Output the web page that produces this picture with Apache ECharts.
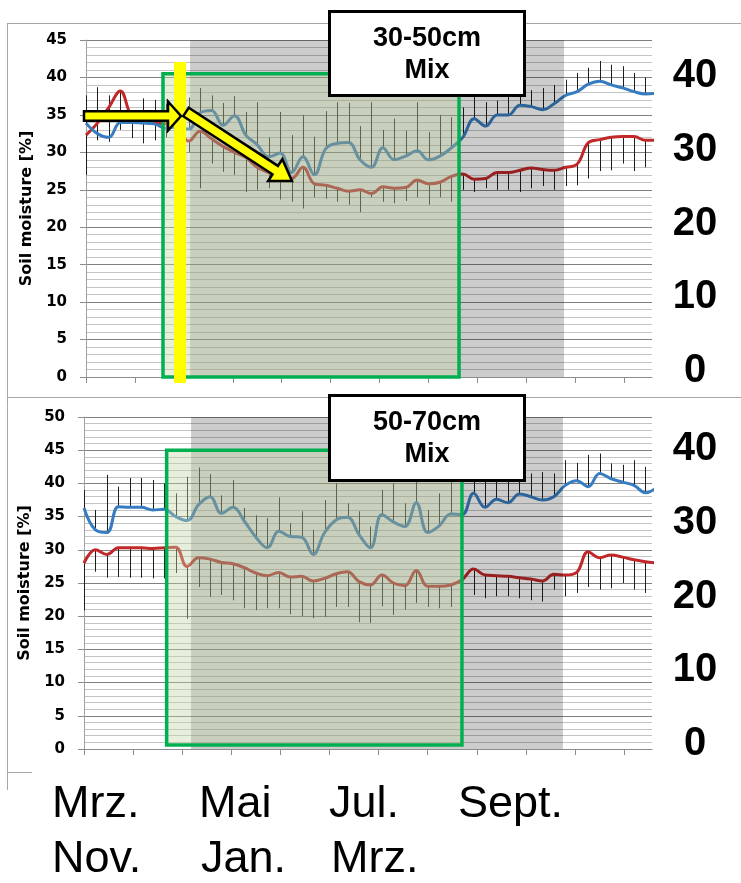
<!DOCTYPE html>
<html>
<head>
<meta charset="utf-8">
<script src="https://cdn.jsdelivr.net/npm/echarts@6/dist/echarts.min.js"></script>
<style>
  html, body { margin: 0; padding: 0; background: #fff; }
  #chart { width: 741px; height: 883px; }
</style>
</head>
<body>
<div id="chart"></div>
<script>
// Sampling days (weekly) shared by both depth panels
const days = [0, 7, 14, 21, 28, 35, 42, 49, 56, 63, 70, 77, 84, 91, 98, 105, 112, 119, 126, 133,
  140, 147, 154, 161, 168, 175, 182, 189, 196, 203, 210, 217, 224, 231, 238, 245, 252, 259, 266, 273,
  280, 287, 294, 301, 308, 315, 322, 329, 336, 343, 350];

// Month tick positions (days) and the month captions printed under the panels
const tickDays = [0, 30, 60, 90, 120, 150, 180, 210, 240, 270, 300, 330];
const monthRow1 = ['Mrz.', 'Mai', 'Jul.', 'Sept.'];
const monthRow2 = ['Nov.', 'Jan.', 'Mrz.'];
const rightTicks = [0, 10, 20, 30, 40];

// 30-50 cm
const topBlue = [33.9, 32.5, 32.0, 34.0, 34.0, 33.9, 33.8, 33.2, 33.4, 33.1, 35.3, 35.6, 33.6, 34.9, 32.3, 31.0,
  29.4, 29.9, 27.3, 29.4, 27.0, 30.5, 31.2, 31.3, 29.0, 28.0, 30.6, 29.0, 29.5, 30.2, 29.0, 29.5, 30.6, 32.0,
  34.5, 33.5, 35.0, 35.0, 36.3, 36.1, 35.7, 36.5, 37.6, 38.1, 39.1, 39.5, 39.0, 38.6, 38.1, 37.8, 37.9];
const topRed = [32.3, 33.9, 36.0, 38.2, 34.8, 34.0, 33.9, 33.8, 33.3, 31.5, 32.8, 31.8, 30.8, 30.0, 29.3, 28.0,
  27.3, 26.7, 26.5, 28.0, 25.8, 25.6, 25.2, 24.8, 25.0, 24.5, 25.4, 25.2, 25.3, 26.3, 25.8, 26.0, 26.8, 27.1,
  26.4, 26.5, 27.3, 27.3, 27.6, 27.9, 27.7, 27.6, 28.0, 28.4, 31.3, 31.7, 32.0, 32.1, 32.1, 31.6, 31.6];
const topBlueHigh = [37.6, 38.7, 37.6, 36.5, 35.4, 37.2, 37.0, 36.5, 36.8, 37.3, 38.6, 37.6, 36.6, 37.5, 35.4, 36.7,
  32.0, 35.4, 32.3, 35.0, 32.1, 35.5, 36.7, 36.6, 33.5, 36.7, 33.0, 34.5, 32.9, 36.7, 32.7, 35.0, 34.7, 36.0,
  38.1, 36.7, 36.9, 37.8, 37.6, 38.3, 38.6, 39.0, 39.7, 40.6, 41.3, 42.2, 41.7, 41.5, 40.6, 40.0, 40.2];
const topRedLow = [27.0, 31.6, 31.4, 33.0, 31.9, 31.2, 31.6, 32.0, 31.5, 30.0, 25.2, 28.5, 27.4, 27.0, 24.7, 25.0,
  25.2, 23.7, 23.4, 22.5, 24.0, 23.8, 23.4, 23.0, 22.0, 24.0, 23.4, 23.2, 23.5, 24.0, 23.0, 24.0, 23.4, 25.0,
  24.7, 25.2, 25.0, 25.0, 24.7, 25.2, 25.5, 25.0, 25.5, 25.6, 26.5, 27.5, 27.6, 28.5, 27.5, 28.0, 28.0];

// 50-70 cm
const botBlue = [36.3, 33.0, 32.6, 36.5, 36.4, 36.4, 36.0, 36.1, 35.0, 34.4, 36.8, 38.0, 35.5, 36.4, 34.3, 31.9,
  30.3, 32.8, 32.0, 31.9, 29.3, 32.6, 34.5, 34.9, 32.3, 30.3, 35.3, 34.2, 33.5, 37.1, 32.6, 33.6, 35.4, 35.3,
  38.5, 36.4, 37.6, 37.1, 38.4, 38.0, 37.5, 38.0, 39.7, 40.4, 39.5, 41.5, 40.7, 40.2, 39.7, 38.6, 39.4];
const botRed = [28.0, 30.0, 29.3, 30.3, 30.3, 30.3, 30.2, 30.3, 30.4, 27.5, 28.8, 28.6, 28.1, 27.9, 27.3, 26.5,
  26.1, 26.6, 25.9, 26.0, 25.3, 25.7, 26.4, 26.7, 25.2, 24.7, 26.2, 25.0, 24.6, 26.9, 24.5, 24.5, 24.7, 25.5,
  27.1, 26.2, 26.1, 26.0, 25.8, 25.6, 25.3, 26.3, 26.2, 26.6, 29.7, 28.8, 29.2, 28.9, 28.5, 28.2, 28.0];
const botBlueHigh = [39.0, 36.0, 41.3, 39.5, 40.8, 40.8, 40.5, 40.0, 38.5, 41.0, 42.4, 41.4, 38.2, 40.5, 36.3, 35.2,
  34.8, 37.9, 34.0, 35.8, 33.0, 37.5, 40.0, 37.0, 35.8, 33.5, 39.0, 40.0, 37.0, 41.4, 36.0, 38.5, 40.7, 40.0,
  41.3, 41.0, 40.5, 41.0, 42.0, 41.5, 41.7, 41.5, 43.5, 43.1, 44.3, 44.5, 43.0, 42.8, 43.5, 42.5, 42.6];
const botRedLow = [20.9, 26.7, 25.8, 25.9, 25.8, 25.8, 25.7, 25.7, 26.5, 19.6, 24.4, 22.9, 23.2, 22.4, 21.2, 20.9,
  21.2, 21.2, 20.3, 20.0, 19.7, 19.9, 21.4, 21.4, 19.1, 19.0, 21.5, 20.2, 21.0, 22.0, 21.4, 21.2, 21.4, 21.2,
  23.2, 22.7, 23.0, 23.0, 22.7, 22.4, 22.2, 24.0, 23.0, 23.5, 24.4, 24.0, 24.2, 25.0, 24.0, 23.5, 24.5];

// Highlighted periods: [startDay, endDay, lowValue, highValue]
const topBands = [[63.8, 293.1, 0, 45], [47.2, 228.7, 0, 40.5]];
const botBands = [[65.4, 292.6, 0, 50], [50.5, 230.9, 0.6, 45]];

const BLUE = '#377cc0';
const RED = '#c0282a';
const FONT = 'Liberation Sans, Arial, sans-serif';
const AXFONT = 'DejaVu Sans, sans-serif';

const pairs = (vals) => days.map((d, i) => [d, vals[i]]);
const triples = (lo, hi) => days.map((d, i) => [d, lo[i], hi[i]]);

function renderErr(params, api) {
  const a = api.coord([api.value(0), api.value(1)]);
  const b = api.coord([api.value(0), api.value(2)]);
  const x = Math.round(a[0]) + 0.5;
  return {
    type: 'line',
    shape: { x1: x, y1: a[1], x2: x, y2: b[1] },
    style: { stroke: '#1e1e1e', lineWidth: 1 }
  };
}

const bandStyles = [
  { fill: 'rgba(0,0,0,0.2)', stroke: null, lineWidth: 0 },
  { fill: 'rgba(195,212,165,0.4)', stroke: '#00b050', lineWidth: 3.5 }
];
function renderBand(params, api) {
  const p0 = api.coord([api.value(0), api.value(3)]);
  const p1 = api.coord([api.value(1), api.value(2)]);
  return {
    type: 'rect',
    shape: { x: p0[0], y: p0[1], width: p1[0] - p0[0], height: p1[1] - p0[1] },
    style: bandStyles[params.dataIndex]
  };
}

function panelSeries(idx, blue, red, blueHigh, redLow, bands) {
  return [
    { type: 'custom', xAxisIndex: idx, yAxisIndex: idx, renderItem: renderErr, clip: true,
      encode: { x: 0, y: [1, 2] }, data: triples(blue, blueHigh), z: 2, silent: true },
    { type: 'custom', xAxisIndex: idx, yAxisIndex: idx, renderItem: renderErr, clip: true,
      encode: { x: 0, y: [1, 2] }, data: triples(redLow, red), z: 2, silent: true },
    { type: 'line', xAxisIndex: idx, yAxisIndex: idx, data: pairs(red), smooth: 0.4, symbol: 'none',
      lineStyle: { color: RED, width: 3 }, z: 3, silent: true },
    { type: 'line', xAxisIndex: idx, yAxisIndex: idx, data: pairs(blue), smooth: 0.4, symbol: 'none',
      lineStyle: { color: BLUE, width: 3 }, z: 3, silent: true },
    { type: 'custom', xAxisIndex: idx, yAxisIndex: idx, renderItem: renderBand, clip: false,
      encode: { x: [0, 1], y: [2, 3] }, data: bands, z: 5, silent: true }
  ];
}

function mainX(grid) {
  return {
    type: 'value', gridIndex: grid, min: 0, max: 347,
    axisLine: { show: true, lineStyle: { color: '#8c8c8c', width: 1 } },
    axisTick: { show: true, customValues: tickDays, length: 6, lineStyle: { color: '#8c8c8c' } },
    axisLabel: { show: false },
    splitLine: { show: false }
  };
}
function mainY(grid, max, gap) {
  return {
    type: 'value', gridIndex: grid, min: 0, max: max, interval: 5,
    name: 'Soil moisture [%]', nameLocation: 'middle', nameGap: gap,
    nameTextStyle: { fontFamily: AXFONT, fontWeight: 'bold', fontSize: 16, color: '#000' },
    axisLine: { show: true, lineStyle: { color: '#a0a0a0', width: 1 } },
    axisTick: { show: true, length: 6, lineStyle: { color: '#8c8c8c' } },
    axisLabel: { margin: 19, fontFamily: AXFONT, fontWeight: 'bold', fontSize: 15, color: '#000' },
    splitLine: { show: true, lineStyle: { color: '#7f7f7f', width: 1 } },
    minorTick: { show: false, splitNumber: 5 },
    minorSplitLine: { show: true, lineStyle: { color: '#c4c4c4', width: 1 } }
  };
}
function rightY(grid) {
  return {
    type: 'value', gridIndex: grid, position: 'right', min: rightTicks[0],
    max: rightTicks[rightTicks.length - 1], interval: rightTicks[1] - rightTicks[0],
    axisLine: { show: false }, axisTick: { show: false }, splitLine: { show: false },
    axisLabel: { margin: 43, align: 'center', fontFamily: FONT, fontWeight: 'bold', fontSize: 40, color: '#000' }
  };
}

function arrowPoints(ax, ay, tx, ty, w, h, L) {
  const dx = tx - ax, dy = ty - ay, len = Math.hypot(dx, dy);
  const ux = dx / len, uy = dy / len, nx = -uy, ny = ux;
  const bx = tx - ux * L, by = ty - uy * L;
  return [[ax + nx * w, ay + ny * w], [bx + nx * w, by + ny * w], [bx + nx * h, by + ny * h], [tx, ty],
    [bx - nx * h, by - ny * h], [bx - nx * w, by - ny * w], [ax - nx * w, ay - ny * w]];
}

const frame = { stroke: '#a6a6a6', lineWidth: 1 };
const graphics = [
  { type: 'line', shape: { x1: 7, y1: 23.5, x2: 741, y2: 23.5 }, style: frame, silent: true },
  { type: 'line', shape: { x1: 7.5, y1: 23, x2: 7.5, y2: 790 }, style: frame, silent: true },
  { type: 'line', shape: { x1: 7, y1: 397.5, x2: 741, y2: 397.5 }, style: frame, silent: true },
  { type: 'line', shape: { x1: 7, y1: 772.5, x2: 32, y2: 772.5 }, style: frame, silent: true },
  // marker bar at the start of the period
  { type: 'rect', z: 20, shape: { x: 174, y: 62, width: 12, height: 321 }, style: { fill: '#ffff00' }, silent: true },
  { type: 'polygon', z: 21, shape: { points: arrowPoints(84, 116, 181, 116, 4.75, 14.5, 13) },
    style: { fill: '#ffff00', stroke: '#000', lineWidth: 2.5, lineJoin: 'miter' }, silent: true },
  { type: 'polygon', z: 21, shape: { points: arrowPoints(186, 112, 292, 181, 5, 13, 20) },
    style: { fill: '#ffff00', stroke: '#000', lineWidth: 2.5, lineJoin: 'miter' }, silent: true },
  // depth captions
  { type: 'rect', z: 22, shape: { x: 329.5, y: 11.5, width: 195, height: 84 },
    style: { fill: '#fff', stroke: '#000', lineWidth: 3 }, silent: true },
  { type: 'text', z: 23, x: 427, y: 55, style: { text: '30-50cm\nMix', font: 'bold 27px ' + FONT,
    fill: '#000', align: 'center', verticalAlign: 'middle', lineHeight: 32 }, silent: true },
  { type: 'rect', z: 22, shape: { x: 329.5, y: 395.5, width: 195, height: 85 },
    style: { fill: '#fff', stroke: '#000', lineWidth: 3 }, silent: true },
  { type: 'text', z: 23, x: 427, y: 439, style: { text: '50-70cm\nMix', font: 'bold 27px ' + FONT,
    fill: '#000', align: 'center', verticalAlign: 'middle', lineHeight: 32 }, silent: true }
];
const row1X = [52, 199, 329, 458];
const row2X = [52, 201, 331];
monthRow1.forEach((t, i) => graphics.push({ type: 'text', z: 23, x: row1X[i], y: 805,
  style: { text: t, font: '45px ' + FONT, fill: '#000', align: 'left', verticalAlign: 'middle' }, silent: true }));
monthRow2.forEach((t, i) => graphics.push({ type: 'text', z: 23, x: row2X[i], y: 860,
  style: { text: t, font: '45px ' + FONT, fill: '#000', align: 'left', verticalAlign: 'middle' }, silent: true }));

const chart = echarts.init(document.getElementById('chart'), null, { renderer: 'canvas' });
chart.setOption({
  animation: false,
  backgroundColor: '#fff',
  grid: [
    { left: 86, right: 89, top: 40, height: 337 },
    { left: 84, right: 89, top: 417, height: 332 },
    { left: 651, width: 1, top: 76, height: 295 },
    { left: 651, width: 1, top: 449, height: 295 }
  ],
  xAxis: [mainX(0), mainX(1),
    { type: 'value', gridIndex: 2, show: false, min: 0, max: 1 },
    { type: 'value', gridIndex: 3, show: false, min: 0, max: 1 }],
  yAxis: [mainY(0, 45, 50), mainY(1, 50, 48), rightY(2), rightY(3)],
  series: [].concat(
    panelSeries(0, topBlue, topRed, topBlueHigh, topRedLow, topBands),
    panelSeries(1, botBlue, botRed, botBlueHigh, botRedLow, botBands)
  ),
  graphic: { elements: graphics }
});
</script>
</body>
</html>
